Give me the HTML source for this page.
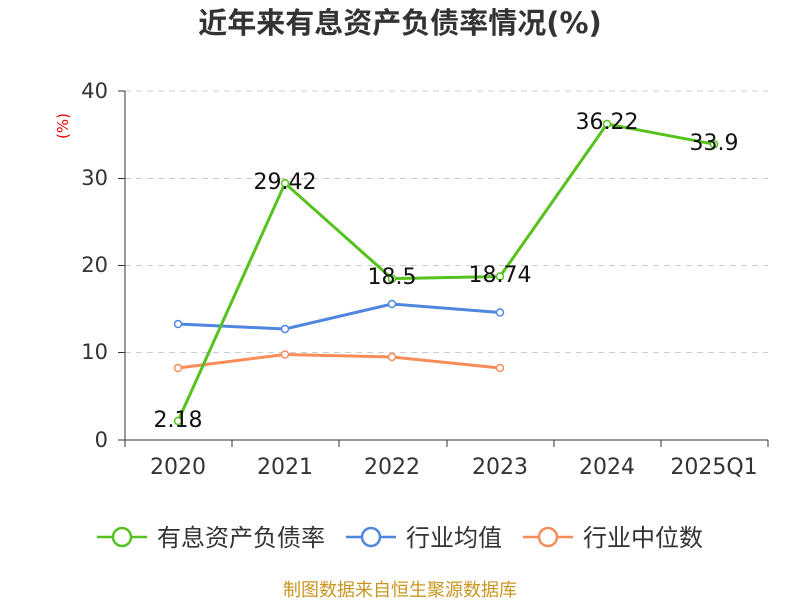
<!DOCTYPE html>
<html><head><meta charset="utf-8"><style>
body{margin:0;background:#fff;}
svg{display:block;font-family:"DejaVu Sans","Noto Sans CJK SC",sans-serif;}
</style></head><body>
<svg width="800" height="600" viewBox="0 0 800 600">
<text x="400" y="33" text-anchor="middle" font-size="29" font-weight="bold" fill="#333">近年来有息资产负债率情况(%)</text>
<text x="68" y="126" font-size="15" fill="#e00" transform="rotate(-90 68 126)" text-anchor="middle">(%)</text>
<g stroke="#ccc" stroke-dasharray="6,5" stroke-width="1">
<line x1="125" y1="91" x2="768" y2="91"/><line x1="125" y1="178.5" x2="768" y2="178.5"/>
<line x1="125" y1="265.5" x2="768" y2="265.5"/><line x1="125" y1="352.5" x2="768" y2="352.5"/>
</g>
<g stroke="#333" stroke-width="1">
<line x1="125" y1="91" x2="125" y2="440"/>
<line x1="118" y1="91" x2="125" y2="91"/><line x1="118" y1="178.5" x2="125" y2="178.5"/><line x1="118" y1="265.5" x2="125" y2="265.5"/><line x1="118" y1="352.5" x2="125" y2="352.5"/><line x1="118" y1="440" x2="125" y2="440"/>
<line x1="125" y1="440" x2="768" y2="440"/>
<line x1="125" y1="440" x2="125" y2="447"/><line x1="232" y1="440" x2="232" y2="447"/><line x1="339" y1="440" x2="339" y2="447"/><line x1="447" y1="440" x2="447" y2="447"/><line x1="554" y1="440" x2="554" y2="447"/><line x1="661" y1="440" x2="661" y2="447"/><line x1="768" y1="440" x2="768" y2="447"/>
</g>
<g font-size="21" fill="#333" text-anchor="end">
<text x="108" y="98">40</text><text x="108" y="185">30</text><text x="108" y="272">20</text><text x="108" y="359">10</text><text x="108" y="447">0</text>
</g>
<g font-size="22" fill="#333" text-anchor="middle">
<text x="178" y="474">2020</text><text x="285" y="474">2021</text><text x="392" y="474">2022</text><text x="500" y="474">2023</text><text x="607" y="474">2024</text><text x="714" y="474">2025Q1</text>
</g>
<polyline points="178,368 285,354.5 392,357 500,368" fill="none" stroke="#fa8c5a" stroke-width="3"/>
<polyline points="178,324 285,329 392,304 500,312.5" fill="none" stroke="#4e86e0" stroke-width="3"/>
<polyline points="178,421 285,183.3 392,278.6 500,276.5 607,124 714,144.2" fill="none" stroke="#55c21d" stroke-width="3"/>
<g fill="#fff" stroke="#fa8c5a" stroke-width="1.5"><circle cx="178" cy="368" r="3.5"/><circle cx="285" cy="354.5" r="3.5"/><circle cx="392" cy="357" r="3.5"/><circle cx="500" cy="368" r="3.5"/></g>
<g fill="#fff" stroke="#4e86e0" stroke-width="1.5"><circle cx="178" cy="324" r="3.5"/><circle cx="285" cy="329" r="3.5"/><circle cx="392" cy="304" r="3.5"/><circle cx="500" cy="312.5" r="3.5"/></g>
<g fill="#fff" stroke="#55c21d" stroke-width="1.5"><circle cx="178" cy="421" r="3.5"/><circle cx="285" cy="183.3" r="3.5"/><circle cx="392" cy="278.6" r="3.5"/><circle cx="500" cy="276.5" r="3.5"/><circle cx="607" cy="124" r="3.5"/><circle cx="714" cy="144.2" r="3.5"/></g>
<g font-size="22" fill="#111" text-anchor="middle">
<text x="178" y="427">2.18</text><text x="285" y="189">29.42</text><text x="392" y="284">18.5</text><text x="500" y="282">18.74</text><text x="607" y="129">36.22</text><text x="714" y="150">33.9</text>
</g>
<g stroke-width="2.5" fill="#fff">
<line x1="97" y1="537" x2="147" y2="537" stroke="#55c21d"/><circle cx="122" cy="537" r="9" stroke="#55c21d"/>
<line x1="346" y1="537" x2="396" y2="537" stroke="#4e86e0"/><circle cx="371" cy="537" r="9" stroke="#4e86e0"/>
<line x1="523" y1="537" x2="573" y2="537" stroke="#fa8c5a"/><circle cx="548" cy="537" r="9" stroke="#fa8c5a"/>
</g>
<g font-size="24" fill="#333">
<text x="157" y="546">有息资产负债率</text><text x="406" y="546">行业均值</text><text x="583" y="546">行业中位数</text>
</g>
<text x="400" y="596" text-anchor="middle" font-size="18" fill="#c8961e">制图数据来自恒生聚源数据库</text>
</svg>
</body></html>
